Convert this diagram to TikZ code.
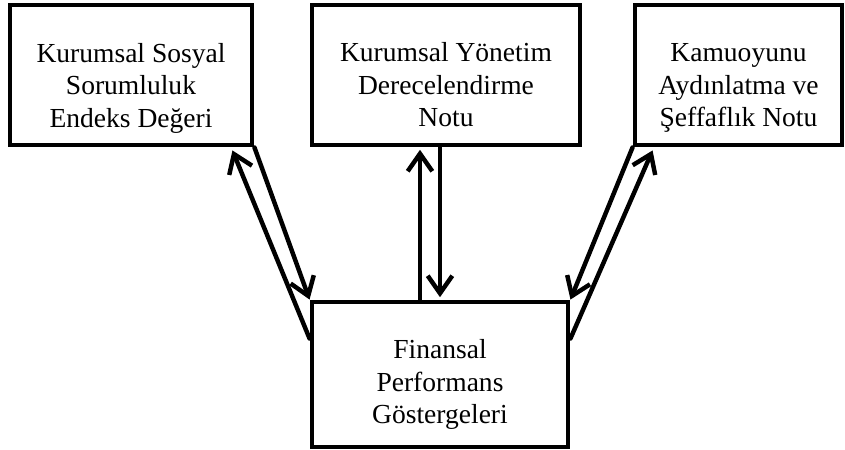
\documentclass[tikz,border=0pt]{standalone}
\usepackage{fontspec}
\setmainfont{Liberation Serif}
\usetikzlibrary{arrows.meta,positioning,calc}

\begin{document}
\begin{tikzpicture}[x=0.03cm,y=-0.03cm,
    font=\fontsize{23.5}{27.8}\selectfont,
    box/.style={draw,line width=4.2pt,minimum height=4.2cm,inner sep=0pt},
    txt/.style={align=center,inner sep=0pt},
    arr/.style={line width=3.8pt,line cap=round,line join=round,
                -{Straight Barb[length=15pt,width=21pt]}}]
  \useasboundingbox (0,0) rectangle (845,449);
  % the three boxes on top
  \node[box,minimum width=7.26cm] (ksr) at (131,75) {};
  \node[box,minimum width=8.04cm] (kyd) at (446,75) {};
  \node[box,minimum width=6.21cm] (kat) at (738.5,75) {};
  \node[txt] (ksr-t) at ($(ksr.center)+(0,13)$) {Kurumsal Sosyal\\ Sorumluluk\\ Endeks Değeri};
  \node[txt] (kyd-t) at ($(kyd.center)+(0,10)$) {Kurumsal Yönetim\\ Derecelendirme\\ Notu};
  \node[txt] (kat-t) at ($(kat.center)+(0,13)$) {Kamuoyunu\\ Aydınlatma ve\\ Şeffaflık Notu};
  % the box below
  \node[box,minimum width=7.68cm,minimum height=4.35cm] (fpg) at (440,374.5) {};
  \node[txt] (fpg-t) at ($(fpg.center)+(0,10)$) {Finansal\\ Performans\\ Göstergeleri};
  % left pair
  \draw[arr] (ksr.south east) -- (fpg.north west);
  \draw[arr] ($(fpg.north west)!0.26!(fpg.south west)$) -- ($(ksr.south east)+(-22,3)$);
  % middle pair
  \coordinate (mu) at ($(fpg.north)+(-20,0)$);
  \draw[arr] (mu) -- ([yshift=-2pt]mu |- kyd.south);
  \draw[arr] (fpg.north |- kyd.south) -- ([yshift=2pt]fpg.north);
  % right pair
  \draw[arr] (kat.south west) -- (fpg.north east);
  \draw[arr] ($(fpg.north east)!0.26!(fpg.south east)$) -- ($(kat.south west)+(20,3)$);
\end{tikzpicture}
\end{document}
